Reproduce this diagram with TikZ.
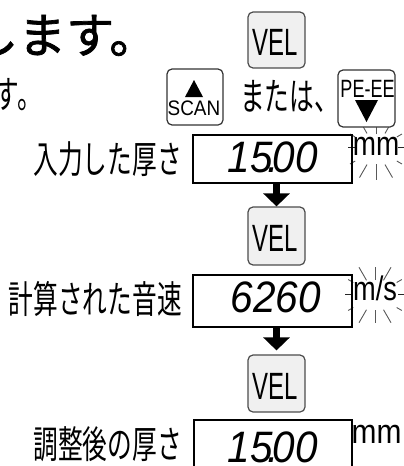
\documentclass[tikz,border=0pt]{standalone}
\usepackage{fontspec}
\usepackage{graphicx}
\usetikzlibrary{arrows.meta,calc}
\setmainfont{Liberation Sans}
\newfontfamily\jpfont{Noto Sans CJK JP}[FakeStretch=0.65]
\newfontfamily\jptitle{Noto Sans CJK JP}[FakeBold=1.5]
\newcommand\narrowtxt[2]{\scalebox{#1}[1]{#2}}
\tikzset{
  velbtn/.style={draw=black!70, fill=black!6, rounded corners=5pt, line width=1.2pt, minimum width=57pt, minimum height=57pt, inner sep=0pt},
  keybtn/.style={draw=black!80, fill=white, rounded corners=5pt, line width=1.2pt, minimum width=56pt, minimum height=56pt, inner sep=0pt},
  disp/.style={draw=black, line width=2pt, minimum width=159pt, inner sep=0pt},
  flow/.style={line width=7pt, -{Triangle[width=26pt,length=13pt]}},
  ray/.style={draw=black!65, line width=0.9pt},
  hray/.style={draw=black!85, line width=0.9pt},
  jplbl/.style={inner sep=0pt, anchor=base east, font=\jpfont\fontsize{38}{40}\selectfont},
  lat/.style={inner sep=0pt, anchor=base},
  digits/.style={inner sep=0pt, anchor=base east, font=\itshape\fontsize{44}{46}\selectfont},
}
\begin{document}
\begin{tikzpicture}[x=1pt,y=-1pt]
\useasboundingbox (0,0) rectangle (404,466);

% top text fragments
\node[inner sep=0pt, anchor=base west, font=\jptitle\fontsize{48}{50}\selectfont] (title) at (-30,53) {します。};
\node[inner sep=0pt, anchor=base west, font=\jpfont\fontsize{38}{40}\selectfont] (line2) at (-5.3,108) {す。};
\node[inner sep=0pt, anchor=base west, font=\jpfont\fontsize{38}{40}\selectfont] (mataha) at (240,110) {または、};

% blinking rays (drawn first, button covers top ends)
\foreach \a/\ri/\ro in {30/24/30,60/18/33,90/15/31,120/18/33,150/24/30,210/24/30,240/18/33,270/15/32,300/18/33,330/24/30}
  \draw[ray] ($(376,149)+(\a:\ri)$) -- ($(376,149)+(\a:\ro)$);
\draw[hray] (348,147) -- (355,147);
\draw[hray] (398,147) -- (405,147);
\foreach \a/\ri/\ro in {30/25/31,60/17/32,90/15/28,120/17/32,150/25/31,210/25/31,240/17/32,270/15/28,300/17/32,330/25/31}
  \draw[ray] ($(375,295)+(\a:\ri)$) -- ($(375,295)+(\a:\ro)$);
\draw[hray] (345,294) -- (353,294);
\draw[hray] (398,294) -- (405,294);

% buttons
\node[velbtn, minimum height=56pt] (v1) at (276.5,40) {};
\node[lat, font=\fontsize{38}{40}\selectfont] (v1t) at (275.5,55) {\narrowtxt{0.63}{VEL}};

\node[keybtn] (scan) at (195,97) {};
\fill ($(scan.center)+(-1,-17)$) -- ($(scan.center)+(8,0)$) -- ($(scan.center)+(-10,0)$) -- cycle;
\node[lat, font=\fontsize{21}{23}\selectfont] (scant) at (194,115) {\narrowtxt{0.9}{SCAN}};

\node[keybtn, minimum width=57pt, minimum height=57pt] (pe) at (366.5,98.5) {};
\node[lat, font=\fontsize{25}{27}\selectfont] (pet) at (367.5,97) {\narrowtxt{0.72}{PE-EE}};
\fill (355,100) -- (378,100) -- (366.5,122) -- cycle;

% display 1
\node[disp, minimum height=48pt] (d1) at (272.5,159) {};
\node[digits] (d1t) at (318,172) {\narrowtxt{0.92}{15\makebox[0pt]{.}00}};
\node[jplbl] (l1) at (182,173) {入力した厚さ};
\node[lat, font=\fontsize{34}{36}\selectfont] (u1) at (376,155) {\narrowtxt{0.82}{mm}};

\node[velbtn, minimum height=58pt] (v2) at (276.5,236) {};
\node[lat, font=\fontsize{38}{40}\selectfont] (v2t) at (275.5,251) {\narrowtxt{0.63}{VEL}};
\draw[flow] (d1.south -| v2.north) -- (v2.north);

% display 2
\node[disp, minimum height=52pt] (d2) at (272.5,301) {};
\node[digits] (d2t) at (321,312) {\narrowtxt{0.92}{6260}};
\node[jplbl] (l2) at (182,313) {計算された音速};
\node[lat, font=\fontsize{34}{36}\selectfont] (u2) at (375,300) {\narrowtxt{0.8}{m/s}};

\node[velbtn, minimum height=57pt] (v3) at (276.5,383.5) {};
\node[lat, font=\fontsize{38}{40}\selectfont] (v3t) at (275.5,399) {\narrowtxt{0.63}{VEL}};
\draw[flow, shorten >=4pt] (d2.south -| v3.north) -- (v3.north);

% display 3
\node[disp, minimum width=158pt, minimum height=60pt] (d3) at (273,450) {};
\node[digits] (d3t) at (318,462) {\narrowtxt{0.92}{15\makebox[0pt]{.}00}};
\node[jplbl] (l3) at (182,458) {調整後の厚さ};
\node[lat, font=\fontsize{34}{36}\selectfont] (u3) at (376.5,443) {\narrowtxt{0.88}{mm}};
\end{tikzpicture}
\end{document}
